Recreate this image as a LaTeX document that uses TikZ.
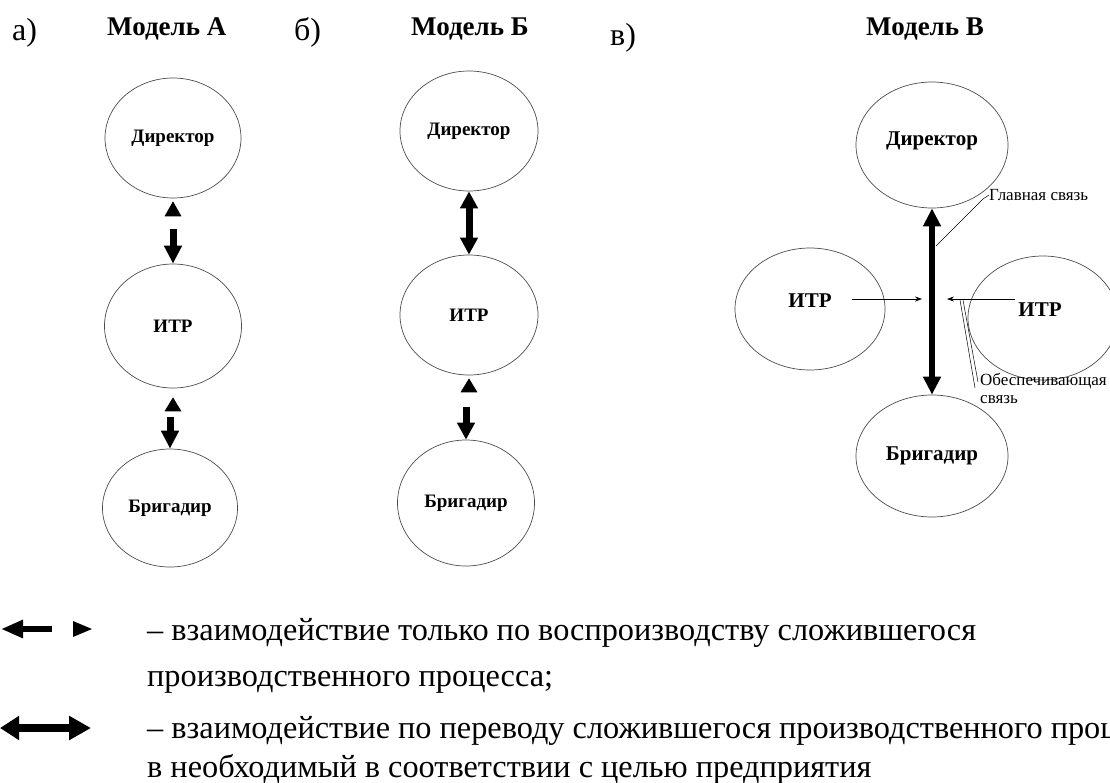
\documentclass[tikz,border=0pt]{standalone}
\usepackage{fontspec}
\setmainfont{Liberation Serif}
\usetikzlibrary{arrows.meta,shapes.geometric,calc}
\begin{document}
\begin{tikzpicture}[x=1pt,y=-1pt,
  circ/.style={draw=black!70, line width=0.7pt, ellipse, inner sep=0pt},
  nameA/.style={font=\bfseries\fontsize{19}{21}\selectfont},
  nameC/.style={font=\bfseries\fontsize{21}{24}\selectfont},
  ttl/.style={font=\bfseries\fontsize{27}{30}\selectfont, anchor=base west, inner sep=0pt},
  lett/.style={font=\fontsize{32}{36}\selectfont, anchor=base west, inner sep=0pt},
  leg/.style={font=\fontsize{32.3}{36}\selectfont, anchor=base west, inner sep=0pt},
  note/.style={font=\fontsize{17}{18}\selectfont, inner sep=0pt},
  thinarr/.style={line width=0.6pt, -{Stealth[length=7pt,width=5pt]}},
  leader/.style={line width=0.5pt},
]
\useasboundingbox (0,0) rectangle (1110,782);
\clip (0,0) rectangle (1110,782);

% titles
\node[lett] (ta) at (12,40) {а)};
\node[ttl] (tma) at (107,35) {Модель А};
\node[lett] (tb) at (294,40) {б)};
\node[ttl] (tmb) at (411,35) {Модель Б};
\node[lett] (tc) at (610,45) {в)};
\node[ttl] (tmc) at (866,35) {Модель В};

% ---------- Model A ----------
\node[circ, nameA, minimum width=136pt, minimum height=120pt] (dA) at (173,138) {Директор};
\node[circ, nameA, minimum width=137pt, minimum height=124pt] (iA) at (173,326) {ИТР};
\node[circ, nameA, minimum width=135pt, minimum height=118pt] (bA) at (170,508) {Бригадир};
\fill ([yshift=-3pt]dA.south) -- ++(8.5,15) -- ++(-17,0) -- cycle;
\draw[line width=7pt, -{Triangle[width=17pt,length=18pt]}] ([yshift=35pt]iA.north) -- (iA.north);
\fill ([yshift=-9pt]iA.south) -- ++(8.5,14) -- ++(-17,0) -- cycle;
\draw[line width=7pt, -{Triangle[width=17pt,length=18pt]}] ([yshift=32pt]bA.north) -- (bA.north);

% ---------- Model B ----------
\node[circ, nameA, minimum width=138pt, minimum height=120pt] (dB) at (469,131) {Директор};
\node[circ, nameA, minimum width=138pt, minimum height=120pt] (iB) at (469,315) {ИТР};
\node[circ, nameA, minimum width=137pt, minimum height=126pt] (bB) at (466,503) {Бригадир};
\draw[line width=7pt, {Triangle[width=17pt,length=17pt]}-{Triangle[width=17pt,length=17pt]}] (dB.south) -- (iB.north);
\fill ([yshift=-3pt]iB.south) -- ++(8.5,14) -- ++(-17,0) -- cycle;
\draw[line width=7pt, -{Triangle[width=17pt,length=17pt]}] ([yshift=33pt]bB.north) -- (bB.north);

% ---------- Model C ----------
\node[circ, nameC, minimum width=152pt, minimum height=126pt] (dC) at (932,145) {\raisebox{0pt}[0pt][0pt]{Директор}};
\node[circ, nameC, minimum width=152pt, minimum height=122pt] (bC) at (932,456) {Бригадир};
\node[circ, nameC, minimum width=150pt, minimum height=122pt] (iL) at (810,309) {\raisebox{2pt}[0pt][0pt]{ИТР}};
\node[circ, nameC, minimum width=150pt, minimum height=124pt] (iR) at (1043,318) {\hspace*{-6pt}\raisebox{2pt}[0pt][0pt]{ИТР}};
\draw[line width=6pt, {Triangle[width=17pt,length=18pt]}-{Triangle[width=17pt,length=18pt]}] (dC.south) -- (bC.north);

\coordinate (lend) at (922,299);
\coordinate (rend) at (947,299);
\draw[thinarr] ([xshift=42pt,yshift=10pt]iL.center) -- (lend);
\draw[thinarr] ([xshift=-28pt,yshift=19pt]iR.center) -- (rend);

\node[note, anchor=west] (gl) at (989,195) {Главная связь};
\coordinate (g0) at (936,246);
\draw[leader] (g0) -- (983,199) -- (gl.west);

\node[note, anchor=north west, align=left] (ob) at (980,373) {Обеспечивающая\\связь};
\coordinate (o0) at (960,300);
\coordinate (o1) at (963,300);
\draw[leader] (o0) -- (975,388);
\draw[leader] (o1) -- (978,382);

% ---------- legend ----------
\coordinate (l1a) at (52,629);
\coordinate (l1b) at (1,629);
\draw[line width=6pt, -{Triangle[width=17pt,length=22pt]}] (l1a) -- (l1b);
\fill (73,621) -- (92,629) -- (73,637) -- cycle;
\node[leg] (t1) at (147,640) {– взаимодействие только по воспроизводству сложившегося};
\node[leg] (t2) at (147,686) {производственного процесса;};

\coordinate (l2a) at (0,728);
\coordinate (l2b) at (91,728);
\draw[line width=8pt, {Triangle[width=23pt,length=19pt]}-{Triangle[width=23pt,length=22pt]}] (l2a) -- (l2b);
\node[leg] (t3) at (147,738) {– взаимодействие по переводу сложившегося производственного проц};
\node[leg] (t4) at (147,777) {в необходимый в соответствии с целью предприятия};
\end{tikzpicture}
\end{document}
